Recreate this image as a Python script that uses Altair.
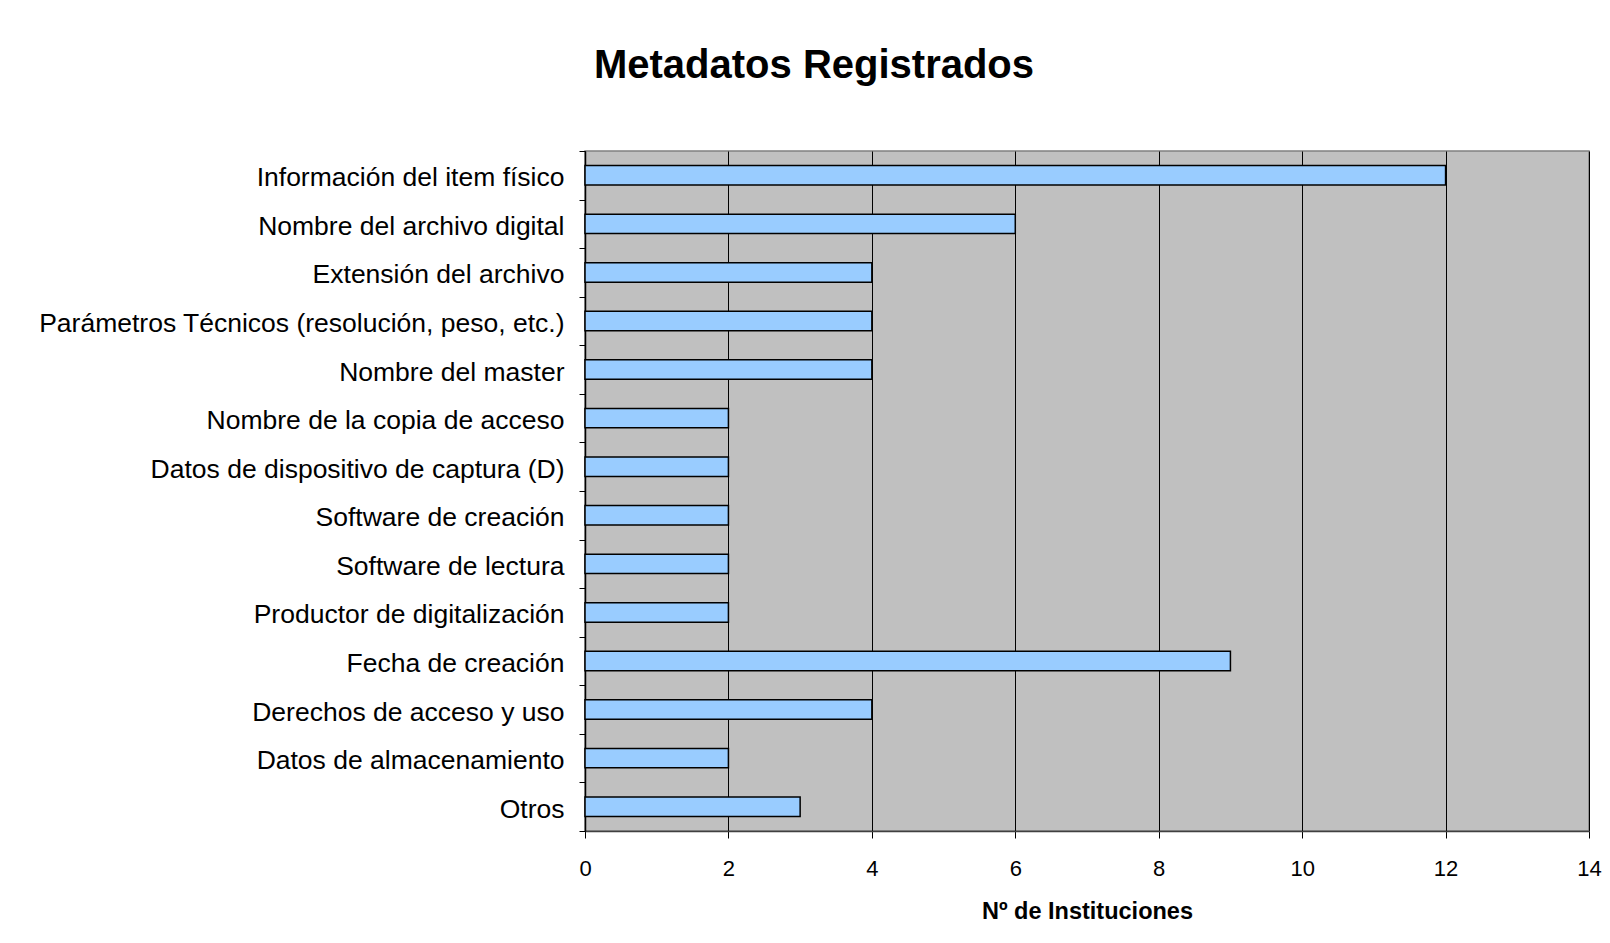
import altair as alt
import pandas as pd

categorias = [
    "Información del item físico",
    "Nombre del archivo digital",
    "Extensión del archivo",
    "Parámetros Técnicos (resolución, peso, etc.)",
    "Nombre del master",
    "Nombre de la copia de acceso",
    "Datos de dispositivo de captura (D)",
    "Software de creación",
    "Software de lectura",
    "Productor de digitalización",
    "Fecha de creación",
    "Derechos de acceso y uso",
    "Datos de almacenamiento",
    "Otros",
]
instituciones = [12, 6, 4, 4, 4, 2, 2, 2, 2, 2, 9, 4, 2, 3]
x_ticks = [0, 2, 4, 6, 8, 10, 12, 14]

df = pd.DataFrame({"Metadato": categorias, "Instituciones": instituciones})

FONT = "Liberation Sans"

chart = (
    alt.Chart(df)
    .mark_bar(
        color="#99CCFF",
        stroke="#000000",
        strokeWidth=1.5,
        height=alt.RelativeBandSize(0.4),
    )
    .encode(
        x=alt.X(
            "Instituciones:Q",
            scale=alt.Scale(domain=[0, 14], nice=False, zero=True),
            axis=alt.Axis(
                values=x_ticks,
                title="Nº de Instituciones",
                titleFont=FONT,
                titleFontSize=23.5,
                titleFontWeight="bold",
                titleColor="#000000",
                titlePadding=20,
                labelFont=FONT,
                labelFontSize=22,
                labelColor="#000000",
                labelPadding=20,
                tickSize=7,
                tickColor="#000000",
                domainColor="#404040",
                domainWidth=1.5,
                grid=True,
                gridColor="#000000",
                gridWidth=1,
                labelFlush=False,
            ),
        ),
        y=alt.Y(
            "Metadato:N",
            sort=None,
            scale=alt.Scale(paddingInner=0, paddingOuter=0),
            axis=alt.Axis(
                title=None,
                labelFont=FONT,
                labelFontSize=26.5,
                labelColor="#000000",
                labelPadding=15,
                labelOffset=2.5,
                labelLimit=0,
                tickSize=6,
                tickColor="#000000",
                tickBand="extent",
                domainColor="#000000",
                domainWidth=1.5,
                grid=False,
            ),
        ),
    )
    .properties(
        width=1004,
        height=680,
        title=alt.TitleParams(
            "Metadatos Registrados",
            font=FONT,
            fontSize=40,
            fontWeight="bold",
            color="#000000",
            anchor="middle",
            dx=-273,
            offset=52,
        ),
        autosize=alt.AutoSizeParams(type="none"),
        padding={"left": 577, "top": 143, "right": 13, "bottom": 100},
        background="#FFFFFF",
    )
    .configure_view(fill="#C0C0C0", stroke="#808080", strokeWidth=1.5)
)

chart.save("out.html", embed_options={"renderer": "svg", "actions": False})
